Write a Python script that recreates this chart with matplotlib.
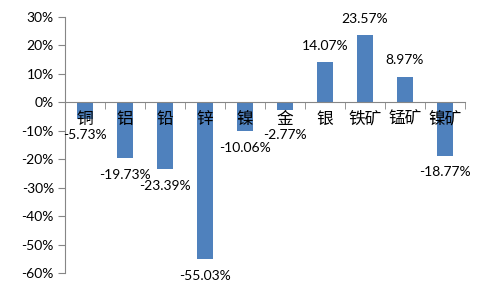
import matplotlib
matplotlib.use("Agg")
import matplotlib.pyplot as plt
from matplotlib.ticker import FuncFormatter, FixedLocator

# data
categories = ["铜", "铝", "铅", "锌", "镍", "金", "银", "铁矿", "锰矿", "镍矿"]
changes = [-5.73, -19.73, -23.39, -55.03, -10.06, -2.77, 14.07, 23.57, 8.97, -18.77]
yticks = [30, 20, 10, 0, -10, -20, -30, -40, -50, -60]

bar_color = "#4F81BD"
axis_color = "#868686"
num_font = ["Lato", "DejaVu Sans"]
cjk_font = ["Noto Sans CJK SC", "DejaVu Sans"]

fig = plt.figure(figsize=(4.8, 2.88), dpi=100)
ax = fig.add_axes([0.1354, 0.052, 0.8333, 0.889])

x = list(range(len(categories)))
ax.bar(x, changes, width=0.4, color=bar_color, zorder=2)
ax.set_axisbelow(False)  # category names sit on top of the bars

ax.set_xlim(-0.5, len(categories) - 0.5)
ax.set_ylim(-60, 30)

# spines
for side in ["top", "right"]:
    ax.spines[side].set_visible(False)
ax.spines["left"].set_color(axis_color)
ax.spines["bottom"].set_color(axis_color)
ax.spines["bottom"].set_position(("data", 0))
ax.spines["bottom"].set_zorder(3)

# y axis
ax.set_yticks(yticks)
ax.yaxis.set_major_formatter(FuncFormatter(lambda v, p: f"{v:.0f}%"))
ax.tick_params(axis="y", length=5, color=axis_color, pad=3)
for lbl in ax.get_yticklabels():
    lbl.set_fontfamily(num_font)
    lbl.set_fontsize(10)
    lbl.set_color("black")

# x axis: labels at centres, tick marks between categories
ax.set_xticks(x)
ax.set_xticklabels(categories, fontfamily=cjk_font, fontsize=12)
ax.tick_params(axis="x", which="major", length=0, pad=6)
ax.xaxis.set_minor_locator(FixedLocator([i + 0.5 for i in range(-1, len(categories))]))
ax.tick_params(axis="x", which="minor", length=5, color=axis_color, direction="out")

# value labels
for xi, v in zip(x, changes):
    if v >= 0:
        ax.annotate(f"{v:.2f}%", (xi, v), xytext=(0, 12), textcoords="offset points",
                    ha="center", va="center", fontsize=10, fontfamily=num_font)
    else:
        ax.annotate(f"{v:.2f}%", (xi, min(v, -5.73)), xytext=(0, -12),
                    textcoords="offset points", ha="center", va="center",
                    fontsize=10, fontfamily=num_font)

fig.savefig("out.png", dpi=100)
